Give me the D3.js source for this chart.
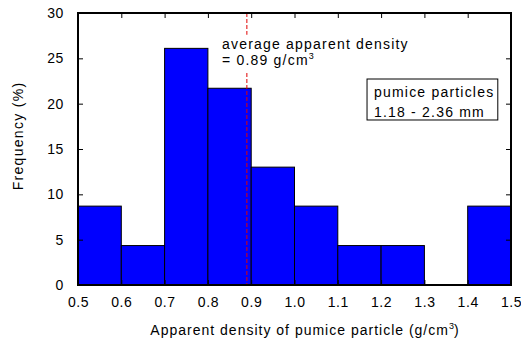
<!DOCTYPE html>
<html>
<head>
<meta charset="utf-8">
<script src="https://cdn.jsdelivr.net/npm/d3@7"></script>
<style>
  html, body { margin: 0; padding: 0; background: #fff; }
  svg { display: block; font-family: "Liberation Sans", Arial, sans-serif; }
</style>
</head>
<body>
<div id="chart"></div>
<script>
  // histogram bins (g/cm3) and frequency (%)
  const binStarts = [0.5, 0.6, 0.7, 0.8, 0.9, 1.0, 1.1, 1.2, 1.3, 1.4];
  const binWidth = 0.1;
  const freq = [8.7, 4.35, 26.1, 21.7, 13.0, 8.7, 4.35, 4.35, 0, 8.7];
  const xTicks = [0.5, 0.6, 0.7, 0.8, 0.9, 1.0, 1.1, 1.2, 1.3, 1.4, 1.5];
  const yTicks = [0, 5, 10, 15, 20, 25, 30];
  const avgDensity = 0.89;

  const W = 521, H = 343;
  const margin = { top: 13, right: 10, bottom: 58, left: 78 };
  const width = W - margin.left - margin.right;
  const height = H - margin.top - margin.bottom;

  const svg = d3.select('#chart').append('svg')
    .attr('width', W).attr('height', H);
  const g = svg.append('g').attr('transform', `translate(${margin.left},${margin.top})`);

  const x = d3.scaleLinear().domain([0.5, 1.5]).range([0, width]);
  const y = d3.scaleLinear().domain([0, 30]).range([height, 0]);

  // bars
  g.selectAll('rect.bar')
    .data(binStarts.map((b, i) => ({ x0: b, x1: b + binWidth, v: freq[i] })).filter(d => d.v > 0))
    .enter().append('rect')
    .attr('class', 'bar')
    .attr('x', d => x(d.x0))
    .attr('y', d => y(d.v))
    .attr('width', d => x(d.x1) - x(d.x0))
    .attr('height', d => y(0) - y(d.v))
    .attr('fill', '#0000ff')
    .attr('stroke', '#000')
    .attr('stroke-width', 1);

  // average line
  g.append('line')
    .attr('x1', x(avgDensity)).attr('x2', x(avgDensity))
    .attr('y1', 0).attr('y2', height)
    .attr('stroke', '#e00000').attr('stroke-width', 1)
    .attr('stroke-dasharray', '4,2');

  // axes with inward ticks
  const tickLen = 5;
  const styleAxis = (sel) => {
    sel.select('.domain').remove();
    sel.selectAll('.tick line').attr('stroke', '#000');
    sel.selectAll('.tick text').attr('fill', '#000').style('font-size', '14px')
      .style('letter-spacing', '0.6px')
      .style('font-family', '"Liberation Sans", Arial, sans-serif');
  };

  g.append('g').attr('transform', `translate(0,${height})`)
    .call(d3.axisBottom(x).tickValues(xTicks).tickFormat(d3.format('.1f')).tickSizeInner(-tickLen).tickSizeOuter(0).tickPadding(12))
    .call(styleAxis);
  g.append('g')
    .call(d3.axisTop(x).tickValues(xTicks).tickFormat('').tickSizeInner(-tickLen).tickSizeOuter(0))
    .call(styleAxis);
  g.append('g')
    .call(d3.axisLeft(y).tickValues(yTicks).tickSizeInner(-tickLen).tickSizeOuter(0).tickPadding(14))
    .call(styleAxis);
  g.append('g').attr('transform', `translate(${width},0)`)
    .call(d3.axisRight(y).tickValues(yTicks).tickFormat('').tickSizeInner(-tickLen).tickSizeOuter(0))
    .call(styleAxis);

  // frame
  g.append('rect')
    .attr('x', 0).attr('y', 0).attr('width', width).attr('height', height)
    .attr('fill', 'none').attr('stroke', '#000').attr('stroke-width', 2);

  // average annotation (white background hides the dashed line)
  const annFont = { size: '14px', spacing: '1.2px' };
  const ann = g.append('g');
  ann.append('rect')
    .attr('x', x(0.83)).attr('y', y(27.6))
    .attr('width', 192).attr('height', 37)
    .attr('fill', '#fff');
  ann.append('text')
    .attr('x', x(0.8326)).attr('y', y(26.0))
    .style('font-size', annFont.size).style('letter-spacing', annFont.spacing).attr('fill', '#000')
    .text('average apparent density');
  const t2 = ann.append('text')
    .attr('x', x(0.8326)).attr('y', y(24.25))
    .style('font-size', annFont.size).style('letter-spacing', annFont.spacing).attr('fill', '#000');
  t2.append('tspan').text('= 0.89 g/cm');
  t2.append('tspan').attr('dy', -6).style('font-size', '9px').style('letter-spacing', '0px').text('3');

  // legend box
  g.append('rect')
    .attr('x', x(1.1675)).attr('y', y(22.72))
    .attr('width', x(1.4695) - x(1.1675)).attr('height', y(18.2) - y(22.72))
    .attr('fill', '#fff').attr('stroke', '#000').attr('stroke-width', 1);
  g.append('text')
    .attr('x', x(1.1836)).attr('y', y(20.74))
    .style('font-size', annFont.size).style('letter-spacing', annFont.spacing).attr('fill', '#000')
    .text('pumice particles');
  g.append('text')
    .attr('x', x(1.1836)).attr('y', y(18.55))
    .style('font-size', annFont.size).style('letter-spacing', annFont.spacing).attr('fill', '#000')
    .text('1.18 - 2.36 mm');

  // axis titles
  svg.append('text')
    .attr('transform', 'translate(23,136) rotate(-90)')
    .attr('text-anchor', 'middle')
    .style('font-size', '14px').style('letter-spacing', '1.3px').attr('fill', '#000')
    .text('Frequency (%)');
  const xt = svg.append('text')
    .attr('x', 305).attr('y', 335)
    .attr('text-anchor', 'middle')
    .style('font-size', '14px').style('letter-spacing', '1px').attr('fill', '#000');
  xt.append('tspan').text('Apparent density of pumice particle (g/cm');
  xt.append('tspan').attr('dy', -6).style('font-size', '9px').style('letter-spacing', '0px').text('3');
  xt.append('tspan').attr('dy', 6).text(')');
</script>
</body>
</html>
